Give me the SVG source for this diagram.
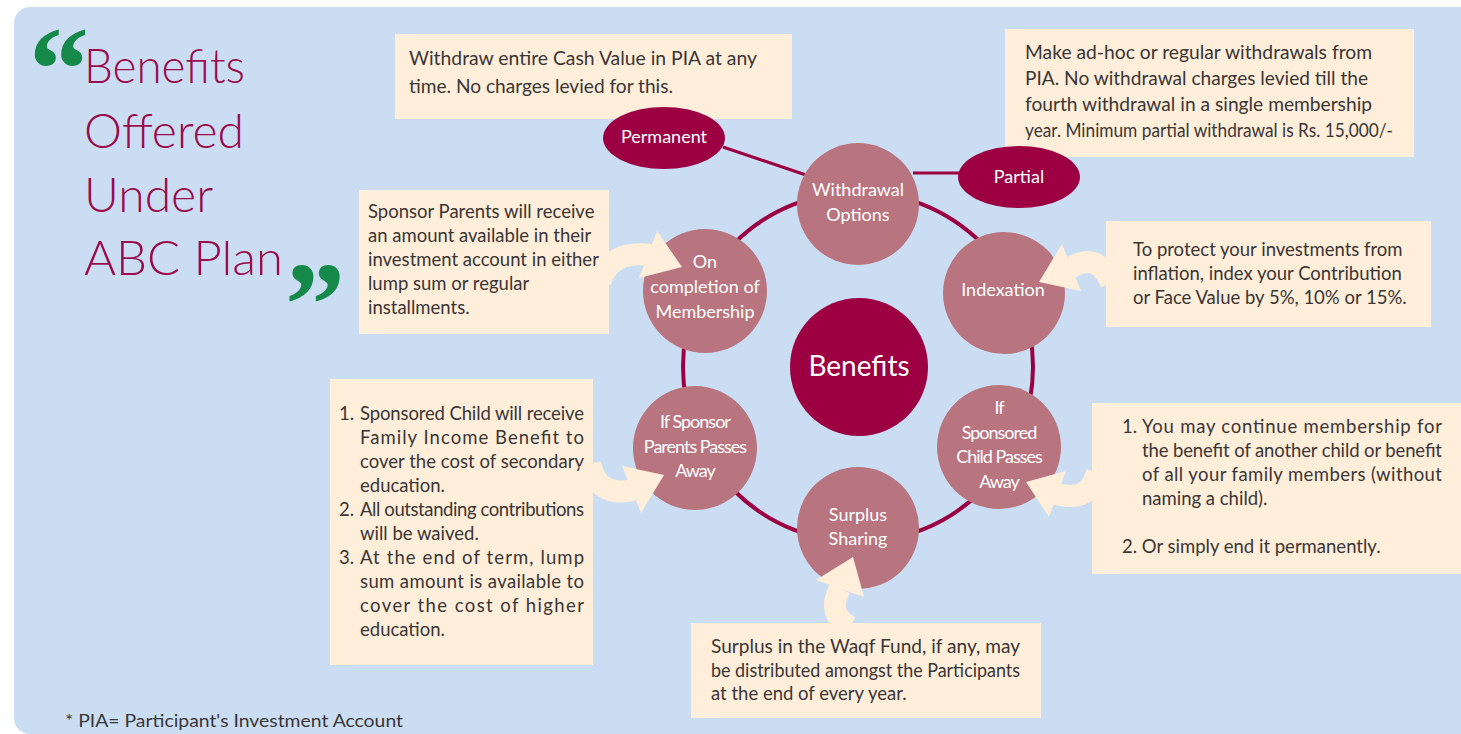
<svg xmlns="http://www.w3.org/2000/svg" width="1461" height="734" viewBox="0 0 1461 734">
<defs>
<style>
.bg{fill:#CBDDF2}
.box{fill:#FEEEDA}
.bt{font-family:"Lato","Open Sans",sans-serif;font-size:18.5px;fill:#3A3636}
.node{fill:#B9757F}
.dark{fill:#9C0043}
.nt{font-family:"Lato","Open Sans",sans-serif;font-size:18px;fill:#FFFFFF;text-anchor:middle}
.ring{fill:none;stroke:#9C0043;stroke-width:4}
.link{fill:none;stroke:#9C0043;stroke-width:3}
.arr{fill:none;stroke:#FEEEDA;stroke-width:22}
.head{fill:#FEEEDA}
.title{font-family:"Lato","Open Sans",sans-serif;font-weight:300;font-size:48px;fill:#9B0A4C}
.quote{font-family:"Liberation Serif",serif;font-weight:bold;font-size:120px;fill:#14894A}
</style>
</defs>
<rect x="0" y="0" width="1461" height="734" fill="#FFFFFF"/>
<rect class="bg" x="14" y="7" width="1470" height="727" rx="16"/>

<g id="title">
<text class="quote" x="29" y="110">“</text>
<text class="title" x="84" y="83" textLength="161" lengthAdjust="spacingAndGlyphs">Benefits</text>
<text class="title" x="84" y="148">Offered</text>
<text class="title" x="84" y="212">Under</text>
<text class="title" x="84" y="275" textLength="199" lengthAdjust="spacingAndGlyphs">ABC Plan</text>
<text class="quote" x="285" y="345">”</text>
</g>

<g id="connectors">
<circle class="ring" cx="858" cy="367" r="175"/>
<line class="link" x1="723" y1="147" x2="806" y2="175"/>
<line class="link" x1="913" y1="173" x2="960" y2="173"/>
</g>

<g id="box-permanent-note">
<rect class="box" x="395" y="34" width="397" height="85"/>
<text class="bt" x="409" y="65" textLength="348" lengthAdjust="spacingAndGlyphs">Withdraw entire Cash Value in PIA at any</text>
<text class="bt" x="409" y="93" textLength="264" lengthAdjust="spacingAndGlyphs">time. No charges levied for this.</text>
</g>

<g id="box-partial-note">
<rect class="box" x="1005" y="29" width="409" height="128"/>
<text class="bt" x="1025" y="59" textLength="347" lengthAdjust="spacingAndGlyphs">Make ad-hoc or regular withdrawals from</text>
<text class="bt" x="1025" y="85" textLength="343" lengthAdjust="spacingAndGlyphs">PIA. No withdrawal charges levied till the</text>
<text class="bt" x="1025" y="111" textLength="347" lengthAdjust="spacingAndGlyphs">fourth withdrawal in a single membership</text>
<text class="bt" x="1025" y="137" textLength="368" lengthAdjust="spacingAndGlyphs">year. Minimum partial withdrawal is Rs. 15,000/-</text>
</g>

<g id="box-completion-note">
<rect class="box" x="359" y="190" width="250" height="144"/>
<text class="bt" x="368" y="218">Sponsor Parents will receive</text>
<text class="bt" x="368" y="242">an amount available in their</text>
<text class="bt" x="368" y="266">investment account in either</text>
<text class="bt" x="368" y="290">lump sum or regular</text>
<text class="bt" x="368" y="314">installments.</text>
</g>

<g id="box-parents-note">
<rect class="box" x="330" y="379" width="263" height="286"/>
<text class="bt" x="339" y="420">1.</text>
<text class="bt" x="360" y="420" textLength="224" lengthAdjust="spacing">Sponsored Child will receive</text>
<text class="bt" x="360" y="444" textLength="224" lengthAdjust="spacing">Family Income Benefit to</text>
<text class="bt" x="360" y="468" textLength="224" lengthAdjust="spacing">cover the cost of secondary</text>
<text class="bt" x="360" y="492">education.</text>
<text class="bt" x="339" y="516">2.</text>
<text class="bt" x="360" y="516" textLength="224" lengthAdjust="spacing">All outstanding contributions</text>
<text class="bt" x="360" y="540">will be waived.</text>
<text class="bt" x="339" y="564">3.</text>
<text class="bt" x="360" y="564" textLength="224" lengthAdjust="spacing">At the end of term, lump</text>
<text class="bt" x="360" y="588" textLength="224" lengthAdjust="spacing">sum amount is available to</text>
<text class="bt" x="360" y="612" textLength="224" lengthAdjust="spacing">cover the cost of higher</text>
<text class="bt" x="360" y="636">education.</text>
</g>

<g id="box-indexation-note">
<rect class="box" x="1106" y="221" width="325" height="106"/>
<text class="bt" x="1133" y="256">To protect your investments from</text>
<text class="bt" x="1133" y="280">inflation, index your Contribution</text>
<text class="bt" x="1133" y="304">or Face Value by 5%, 10% or 15%.</text>
</g>

<g id="box-child-note">
<rect class="box" x="1092" y="403" width="380" height="171"/>
<text class="bt" x="1122" y="433">1.</text>
<text class="bt" x="1142" y="433" textLength="300" lengthAdjust="spacing">You may continue membership for</text>
<text class="bt" x="1142" y="457" textLength="300" lengthAdjust="spacing">the benefit of another child or benefit</text>
<text class="bt" x="1142" y="481" textLength="300" lengthAdjust="spacing">of all your family members (without</text>
<text class="bt" x="1142" y="505">naming a child).</text>
<text class="bt" x="1122" y="553">2. Or simply end it permanently.</text>
</g>

<g id="box-surplus-note">
<rect class="box" x="691" y="623" width="350" height="95"/>
<text class="bt" x="711" y="653" textLength="309" lengthAdjust="spacingAndGlyphs">Surplus in the Waqf Fund, if any, may</text>
<text class="bt" x="711" y="677" textLength="309" lengthAdjust="spacingAndGlyphs">be distributed amongst the Participants</text>
<text class="bt" x="711" y="700">at the end of every year.</text>
</g>

<g id="node-permanent">
<ellipse class="dark" cx="664" cy="138" rx="61" ry="31"/>
<text class="nt" x="664" y="143">Permanent</text>
</g>
<g id="node-partial">
<ellipse class="dark" cx="1019" cy="177" rx="61" ry="31"/>
<text class="nt" x="1019" y="183">Partial</text>
<text class="bt" x="1025" y="160" style="font-size:9px">.</text>
</g>

<g id="node-withdrawal">
<circle class="node" cx="858" cy="204" r="61"/>
<text class="nt" x="858" y="196">Withdrawal</text>
<text class="nt" x="858" y="221">Options</text>
</g>
<g id="node-completion">
<circle class="node" cx="705" cy="291" r="62"/>
<text class="nt" x="705" y="268">On</text>
<text class="nt" x="705" y="293">completion of</text>
<text class="nt" x="705" y="318">Membership</text>
</g>
<g id="node-indexation">
<circle class="node" cx="1004" cy="293" r="61"/>
<text class="nt" x="1003" y="296">Indexation</text>
</g>
<g id="node-benefits">
<circle class="dark" cx="859" cy="367" r="69"/>
<text class="nt" x="859" y="376" style="font-size:28px">Benefits</text>
</g>
<g id="node-parents">
<circle class="node" cx="695" cy="448" r="62"/>
<text class="nt" x="695" y="428" letter-spacing="-1">If Sponsor</text>
<text class="nt" x="695" y="453" letter-spacing="-1">Parents Passes</text>
<text class="nt" x="695" y="477" letter-spacing="-1">Away</text>
</g>
<g id="node-surplus">
<circle class="node" cx="858" cy="528" r="61"/>
<text class="nt" x="858" y="521">Surplus</text>
<text class="nt" x="858" y="545">Sharing</text>
</g>
<g id="node-child">
<circle class="node" cx="999" cy="447" r="62"/>
<text class="nt" x="999" y="414" letter-spacing="-1">If</text>
<text class="nt" x="999" y="439" letter-spacing="-1">Sponsored</text>
<text class="nt" x="999" y="463" letter-spacing="-1">Child Passes</text>
<text class="nt" x="999" y="488" letter-spacing="-1">Away</text>
</g>

<g id="arrows">
<path class="arr" d="M600 282 Q610 250 650 255"/>
<polygon class="head" points="657,231 639,278 682,267"/>
<path class="arr" d="M590 464 Q598 498 633 490"/>
<polygon class="head" points="622,466 641,513 664,475"/>
<path class="arr" d="M850 627 Q826 614 840 588"/>
<polygon class="head" points="816,580 864,597 853,557"/>
<path class="arr" d="M1097 472 Q1090 503 1056 494"/>
<polygon class="head" points="1066,471 1049,517 1026,482"/>
<path class="arr" d="M1111 283 Q1098 251 1070 268"/>
<polygon class="head" points="1062,244 1081,291 1039,282"/>
</g>

<g id="footnote">
<text class="bt" x="65" y="727" style="font-size:18px" textLength="338" lengthAdjust="spacingAndGlyphs">* PIA= Participant's Investment Account</text>
</g>
</svg>
